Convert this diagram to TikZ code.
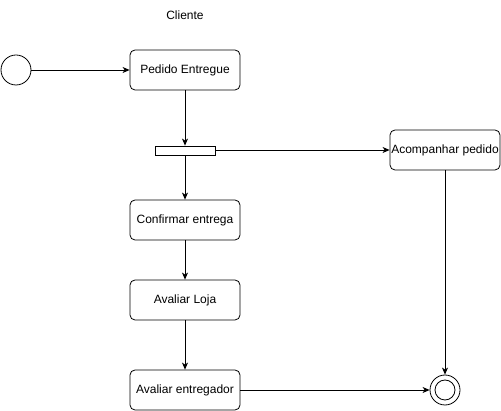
\documentclass[tikz,border=0pt]{standalone}
\usepackage{fontspec}
\setmainfont{Liberation Sans}
\usetikzlibrary{arrows.meta}
\begin{document}
\begin{tikzpicture}[x=1pt,y=-1pt,
  act/.style={draw, rounded corners=5pt, minimum width=110pt, minimum height=40pt, inner sep=0pt, font=\fontsize{12}{14}\selectfont, line width=0.8pt},
  conn/.style={-{Stealth[length=7pt,width=6pt,inset=2pt]}, line width=0.8pt},
  startnode/.style={draw, circle, minimum size=30pt, inner sep=0pt, line width=0.8pt},
  barnode/.style={draw, minimum width=60pt, minimum height=9pt, inner sep=0pt, line width=0.8pt}]
\useasboundingbox (0,0) rectangle (501,411);
\node[font=\fontsize{12}{14}\selectfont] (title) at (185,15) {Cliente};
\node[startnode] (start) at (16,70) {};
\node[act] (pedido) at (185,70) {Pedido Entregue};
\node[barnode] (bar) at (185,150.5) {};
\node[act] (acomp) at (445,150) {Acompanhar pedido};
\node[act] (confirmar) at (185,220) {Confirmar entrega};
\node[act] (loja) at (185,300) {Avaliar Loja};
\node[act] (entregador) at (185,390) {Avaliar entregador};
\node[startnode] (final) at (445,390) {};
\node[draw, circle, minimum size=20pt, inner sep=0pt, line width=0.8pt] (finalin) at (445,390) {};
\draw[conn] (start) -- (pedido);
\draw[conn] (pedido) -- (bar);
\draw[conn] (bar.east |- acomp.west) -- (acomp.west);
\draw[conn] (bar) -- (confirmar);
\draw[conn] (confirmar) -- (loja);
\draw[conn] (loja) -- (entregador);
\draw[conn] (entregador) -- (final);
\draw[conn] (acomp) -- (final);
\end{tikzpicture}
\end{document}
